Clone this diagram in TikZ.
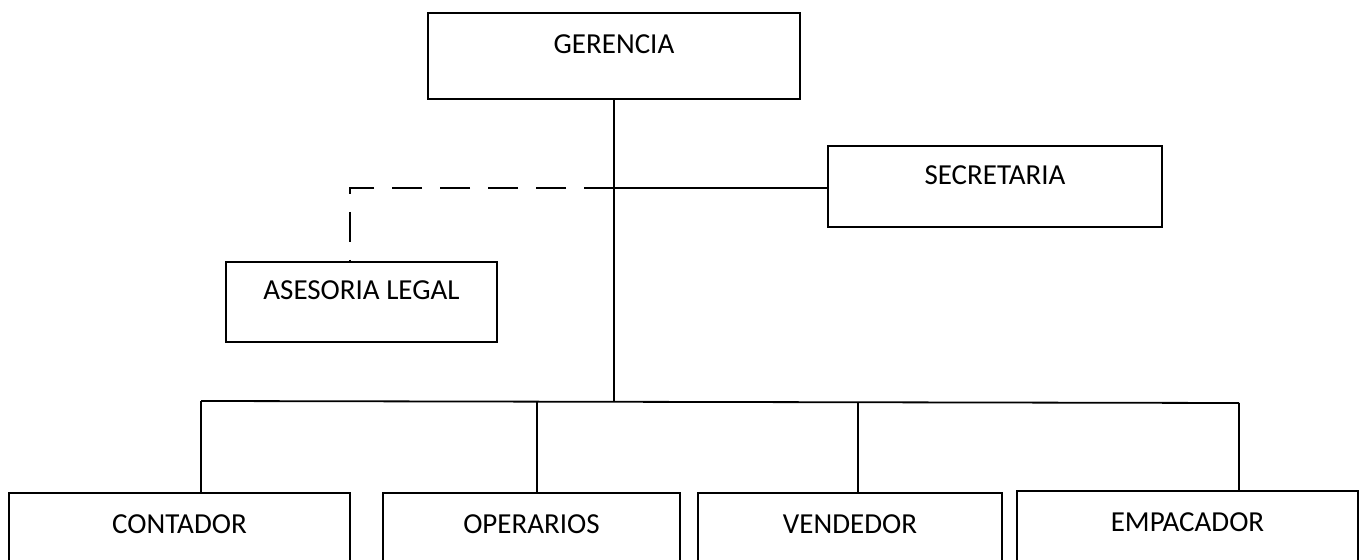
\documentclass[tikz,border=0pt]{standalone}
\usepackage{fontspec}
\setmainfont{Carlito}
\begin{document}
\begin{tikzpicture}[x=0.5pt,y=-0.5pt,
    caja/.style={draw,line width=1pt,text height=9pt,text depth=11pt,
      font=\fontsize{14.5}{17}\selectfont},
    linea/.style={line width=0.9pt},
    punteada/.style={line width=0.9pt,dash pattern=on 15pt off 9pt}]
      \useasboundingbox (0,0) rectangle (1364,560);

      \node[caja,minimum width=186pt,minimum height=43pt] (A) at (614,56) {GERENCIA};

      \node[caja,minimum width=167pt,minimum height=40.5pt] (B) at (995,186.5) {SECRETARIA};
      \node[caja,minimum width=135.5pt,minimum height=40pt] (C) at (361.5,302) {ASESORIA LEGAL};

      \node[caja,minimum width=170.5pt,minimum height=42pt] (D) at (179.5,535) {CONTADOR};
      \node[caja,minimum width=148.5pt,minimum height=42pt] (E) at (531.5,535) {OPERARIOS};
      \node[caja,minimum width=152pt,minimum height=42pt] (F) at (850,535) {VENDEDOR};
      \node[caja,minimum width=170.5pt,minimum height=42pt] (G) at (1187.5,533) {EMPACADOR};

      \coordinate (H) at (614,188);
      \coordinate (I) at (614,402);
      \coordinate (J) at (350,188);
      \coordinate (K) at (201,401);
      \coordinate (L) at (537,402);
      \coordinate (M) at (858,402);
      \coordinate (N) at (1239,403);

      \draw[linea] (A) -- (I);
      \draw[linea] (H) -- (B.west |- H);
      \draw[punteada] (H) -- (J) -- (J |- C.north);
      \draw[linea] (K) -- (N);
      \draw[linea] (K) -- (K |- D.north);
      \draw[linea] (L) -- (L |- E.north);
      \draw[linea] (M) -- (M |- F.north);
      \draw[linea] (N) -- (N |- G.north);
    \end{tikzpicture}
\end{document}
